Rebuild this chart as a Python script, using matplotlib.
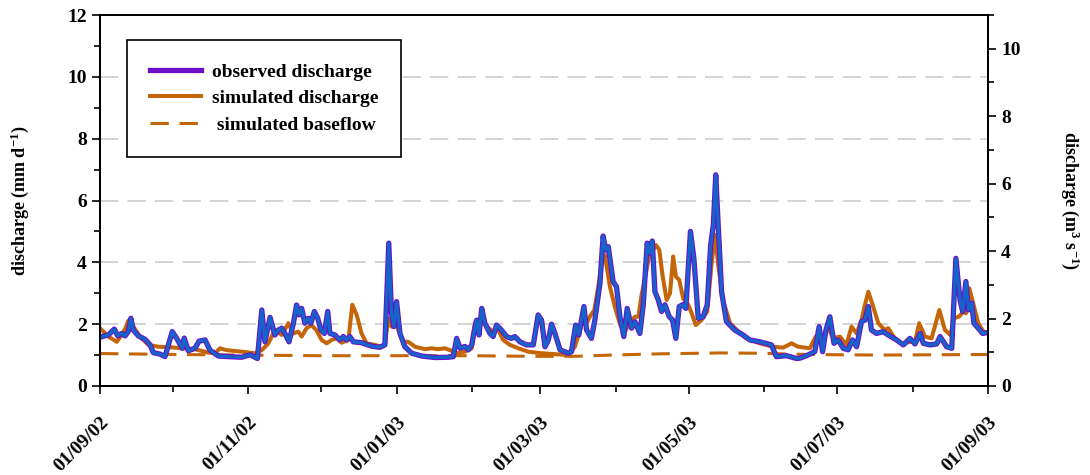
import pandas as pd
import matplotlib
matplotlib.use("Agg")
import matplotlib.pyplot as plt
import matplotlib.dates as mdates
from matplotlib.ticker import MultipleLocator

plt.rcParams['font.family'] = ['Liberation Serif', 'DejaVu Serif']
plt.rcParams['font.weight'] = 'bold'
plt.rcParams['mathtext.fontset'] = 'custom'
plt.rcParams['mathtext.rm'] = 'Liberation Serif:bold'
plt.rcParams['mathtext.it'] = 'Liberation Serif:bold'
plt.rcParams['mathtext.bf'] = 'Liberation Serif:bold'

# days counted from 01/09/2002, values in mm/d
obs_day = [0, 3.4, 5.9, 7.3, 8.9, 10.3, 11.6, 12.7, 13.7, 15.8, 18.5, 20.6, 21.9, 24.7, 26.7,
           29.7, 31.9, 33.8, 34.6, 36.3, 39.0, 40.7, 43.2, 45.2, 48.6, 52.7, 58.2, 61.7, 64.7,
           66.5, 67.8, 69.9, 71.9, 73.3, 74.7, 76.0, 77.7, 79.5, 80.8, 81.8, 82.9, 84.2, 85.6,
           86.7, 88.1, 89.5, 90.8, 92.2, 93.6, 94.5, 96.6, 98.6, 100, 101.4, 102.7, 104.1, 107.5,
           111.6, 115, 117.1, 118.7, 119.8, 120.8, 121.9, 123.3, 125.3, 128.1, 132.2, 137.7,
           143.2, 145.2, 146.6, 148, 150, 151.4, 152.8, 153.9, 154.8, 155.8, 156.9, 158.2, 160.3,
           161.6, 163, 165, 167.1, 169.1, 170.5, 172.6, 175.3, 178.1, 180.1, 181.5, 182.9, 184.3,
           185.6, 187, 189.1, 192.5, 193.8, 195.5, 196.8, 197.9, 198.9, 200, 202, 203.4, 205.5,
           206.8, 207.9, 208.9, 210.9, 212.3, 213.7, 215.3, 216.7, 218.5, 219.9, 221.9, 223.3,
           224.9, 226, 227, 228.1, 229.5, 230.8, 232.2, 234, 235.3, 236.7, 238.1, 239.5, 240.8,
           242.7, 244.1, 245.9, 247.9, 249.6, 251, 252.1, 253.1, 254.1, 255.5, 257.5, 260.9,
           264.3, 267.1, 271.2, 276, 278, 282.2, 286.3, 287.7, 290.4, 293.8, 295.6, 297, 298.4,
           300, 301.7, 303.4, 305.5, 307.5, 309.3, 311, 313, 314.4, 315.8, 317.1, 319.2, 321.9,
           324, 327.4, 330.2, 332.9, 335, 337.1, 338.4, 341.2, 343.9, 345.3, 346.7, 348, 350.1,
           351.8, 353.5, 354.6, 355.9, 357, 358.3, 359.2, 361, 362.8, 365]
obs_val = [1.58, 1.65, 1.84, 1.62, 1.70, 1.62, 1.76, 2.19, 1.81, 1.62, 1.51, 1.33, 1.08, 1.03, 0.95,
           1.76, 1.49, 1.22, 1.55, 1.14, 1.22, 1.45, 1.49, 1.16, 0.97, 0.95, 0.93, 1.01, 0.89,
           2.46, 1.43, 2.22, 1.65, 1.81, 1.87, 1.70, 1.43, 2.03, 2.62, 2.30, 2.51, 2.03, 2.19,
           2.03, 2.41, 2.19, 1.81, 1.70, 2.41, 1.70, 1.65, 1.49, 1.60, 1.49, 1.60, 1.43, 1.40,
           1.29, 1.25, 1.33, 4.62, 2.35, 1.92, 2.73, 1.70, 1.27, 1.06, 0.97, 0.92,
           0.93, 0.95, 1.54, 1.22, 1.28, 1.17, 1.33, 1.81, 2.13, 1.65, 2.51, 2.03, 1.70,
           1.60, 1.97, 1.81, 1.60, 1.54, 1.60, 1.43, 1.33, 1.33, 2.30, 2.13, 1.27, 1.49,
           2.00, 1.70, 1.17, 1.06, 1.11, 1.97, 1.65, 2.13, 2.57, 1.81, 1.54, 2.13, 3.32,
           4.85, 4.40, 4.51, 3.38, 3.21, 2.25, 1.60, 2.51, 1.87, 2.08, 1.70, 2.63,
           4.62, 4.30, 4.69, 3.05, 2.78, 2.41, 2.63, 2.24, 2.14, 1.54, 2.57, 2.63, 2.51,
           5.00, 4.13, 2.19, 2.24, 2.63, 4.56, 5.21, 6.83, 5.21, 3.05, 2.08, 1.81,
           1.65, 1.49, 1.43, 1.33, 0.95, 0.98, 0.89, 0.90, 0.98, 1.11, 1.92, 1.11, 1.81,
           2.24, 1.38, 1.49, 1.22, 1.17, 1.49, 1.27, 2.08, 2.13, 2.57, 1.81, 1.70, 1.76,
           1.65, 1.49, 1.33, 1.54, 1.36, 1.70, 1.38, 1.33, 1.36, 1.60, 1.43, 1.27, 1.22,
           4.13, 2.78, 2.41, 3.38, 2.46, 2.68, 2.03, 1.87, 1.70, 1.73]

sim_day = [0, 3.4, 6.9, 8.9, 10.5, 11.6, 13.7, 16.4, 19.9, 24, 29.5, 33.6, 39, 44.5, 47.3, 49.3,
           52, 58.2, 63.7, 66.5, 69.2, 71.9, 74.7, 77.4, 79.5, 81.5, 82.9, 84.9, 86.9, 88.9,
           91.1, 93.2, 95.2, 97.3, 99.3, 102.1, 103.7, 105.5, 107.5, 109.6, 113, 115.8, 117.1,
           118.5, 119.8, 121, 122.6, 124.7, 126.7, 129.5, 133.6, 136.3, 139, 141.8, 144.5, 146.6,
           150, 152.8, 154.1, 155.5, 156.9, 158.9, 161.6, 163.7, 165.7, 168.5, 171.9, 176, 181.5,
           187, 192.5, 195.2, 197.3, 198.6, 200, 201.4, 203.2, 204.8, 206.4, 207.5, 209.6, 211.6,
           213.7, 215.8, 217.9, 219.9, 221.3, 222.6, 224, 225.4, 226.7, 228.5, 229.9, 231.2,
           232.9, 234.3, 235.6, 236.7, 238.1, 239.7, 241.8, 243.2, 244.9, 247.3, 249.6, 251.4,
           252.8, 254.1, 256.2, 259, 262.4, 265.8, 271.2, 276.7, 280.8, 284.2, 287, 291.8, 294.2,
           297.2, 299.3, 301.3, 304.1, 306.8, 308.9, 311, 313, 314.4, 315.8, 317.8, 319.9, 322.6,
           324, 326.7, 329.5, 332.9, 335, 336.7, 339.1, 341.8, 345, 347.3, 349.6, 351, 353.2,
           354.8, 355.9, 357.3, 358.9, 361, 363.1, 365]
sim_val = [1.87, 1.60, 1.43, 1.65, 1.87, 2.11, 1.92, 1.60, 1.33, 1.27, 1.25, 1.22, 1.19, 1.08, 1.06, 1.22,
           1.16, 1.11, 1.06, 1.16, 1.38, 1.81, 1.65, 2.03, 1.70, 1.76, 1.60, 1.87, 1.97, 1.81,
           1.49, 1.38, 1.49, 1.54, 1.40, 1.49, 2.63, 2.30, 1.70, 1.38, 1.33, 1.27, 1.33,
           2.19, 1.92, 2.22, 1.81, 1.43, 1.43, 1.27, 1.19, 1.22, 1.19, 1.22, 1.14, 1.06,
           1.11, 1.22, 2.03, 2.13, 2.25, 1.92, 1.76, 1.81, 1.49, 1.33, 1.22, 1.11, 1.06,
           1.03, 1.00, 1.27, 1.81, 2.13, 2.03, 2.25, 2.46, 3.21, 4.08, 4.24, 3.21, 2.57,
           2.00, 1.76, 2.08, 2.24, 2.24, 2.94, 3.48, 4.08, 4.30, 4.56, 4.40, 3.59,
           2.78, 3.00, 4.19, 3.54, 3.43, 2.83, 2.63, 2.35, 1.97, 2.14, 2.41, 3.97,
           4.89, 3.92, 2.73, 2.03, 1.76, 1.54, 1.38, 1.27, 1.24, 1.38, 1.27, 1.22, 1.60,
           1.49, 1.92, 1.54, 1.60, 1.33, 1.92, 1.70, 2.13, 2.62, 3.05, 2.57, 2.03, 1.81,
           1.87, 1.54, 1.36, 1.43, 1.43, 2.03, 1.60, 1.54, 2.46, 1.81, 1.65, 2.19, 2.25,
           2.41, 2.35, 3.16, 2.68, 2.03, 1.76, 1.70]

base_day = [0, 30, 60, 90, 120, 150, 180, 195, 210, 230, 255, 270, 290, 320, 365]
base_val = [1.05, 1.02, 1.00, 0.98, 0.98, 0.98, 0.96, 0.96, 1.00, 1.04, 1.07, 1.06, 1.02, 1.00, 1.02]

start = pd.Timestamp("2002-09-01")
def to_dates(days):
    return start + pd.to_timedelta(days, unit="D")

purple = "#6a0fcc"
blue = "#1565c8"
orange = "#c46508"

fig = plt.figure(figsize=(10.9, 4.75), dpi=100)
ax = fig.add_axes([100/1090, 89/475, 888/1090, 371/475])

ax.plot(to_dates(obs_day), obs_val, color=purple, lw=3.8, label="observed discharge", zorder=4)
ax.plot(to_dates(sim_day), sim_val, color=orange, lw=2.9, label="simulated discharge", zorder=3)
ax.plot(to_dates(base_day), base_val, color=orange, lw=2.2, dashes=(6, 3.5),
        label=" simulated baseflow", zorder=3)
# same series again in blue on top (right axis, m3/s)
ax.plot(to_dates(obs_day), obs_val, color=blue, lw=2.3, zorder=5)

ax.set_xlim(start, pd.Timestamp("2003-09-01"))
ax.set_ylim(0, 12)
ax.yaxis.set_major_locator(MultipleLocator(2))
ax.yaxis.set_minor_locator(MultipleLocator(1))
ax.xaxis.set_major_locator(mdates.MonthLocator(bymonth=[1, 3, 5, 7, 9, 11]))
ax.xaxis.set_minor_locator(mdates.MonthLocator(bymonth=[2, 4, 6, 8, 10, 12]))
ax.xaxis.set_major_formatter(mdates.DateFormatter("%d/%m/%y"))

for y in range(2, 12, 2):
    ax.axhline(y, color="#c8c8c8", lw=1.1, dashes=(12, 6), zorder=1)

ax.tick_params(axis="both", which="major", length=6, width=1.2, labelsize=14, direction="out")
ax.tick_params(axis="both", which="minor", length=4, width=1.2, direction="out")
ax.tick_params(axis="x", pad=14)
for lab in ax.get_xticklabels():
    lab.set_rotation(45)
    lab.set_ha("right")
    lab.set_va("top")
    lab.set_rotation_mode("anchor")
    lab.set_fontsize(14)
for sp in ax.spines.values():
    sp.set_linewidth(1.3)

ax.set_ylabel("discharge (mm d$^{-1}$)", fontsize=13, fontweight="bold", labelpad=26)

ax2 = ax.twinx()
ax2.set_ylim(0, 11)
ax2.yaxis.set_major_locator(MultipleLocator(2))
ax2.yaxis.set_minor_locator(MultipleLocator(1))
ax2.tick_params(axis="y", which="major", length=6, width=1.2, labelsize=14)
ax2.tick_params(axis="y", which="minor", length=4, width=1.2)
ax2.set_ylabel("discharge (m$^{3}$ s$^{-1}$)", fontsize=13, fontweight="bold",
               rotation=270, labelpad=44)
for sp in ax2.spines.values():
    sp.set_linewidth(1.3)

leg = ax.legend(loc="upper left", bbox_to_anchor=(127/1090, 1 - 40/475),
                bbox_transform=fig.transFigure, borderaxespad=0, fontsize=14,
                frameon=True, fancybox=False, edgecolor="black", framealpha=1,
                handlelength=2.6, handletextpad=0.55, labelspacing=0.45, borderpad=1.2)
leg.get_frame().set_linewidth(1.2)
for t in leg.get_texts():
    t.set_fontweight("bold")

fig.savefig("out.png", dpi=100)
